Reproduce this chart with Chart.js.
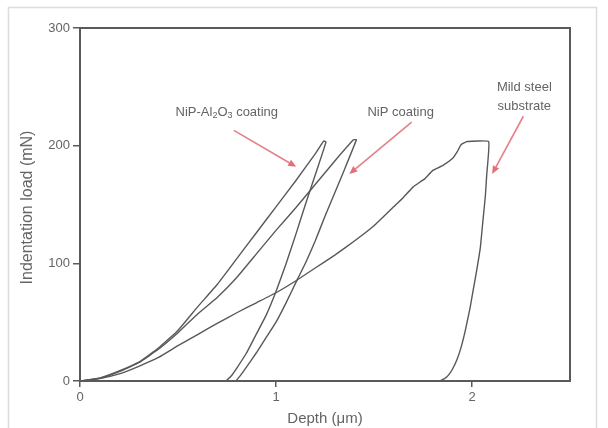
<!DOCTYPE html>
<html>
<head>
<meta charset="utf-8">
<script src="https://cdn.jsdelivr.net/npm/chart.js@4.4.1/dist/chart.umd.min.js"></script>
<style>
html,body{margin:0;padding:0;background:#fff;}
#wrap{width:608px;height:428px;position:relative;}
</style>
</head>
<body>
<div id="wrap"><canvas id="c" width="608" height="428"></canvas></div>
<script>
const xTicks = [0, 1, 2];
const yTicks = [0, 100, 200, 300];

const al2o3Depth = [0,0.1,0.2,0.3,0.4,0.5,0.6,0.7,0.8,0.9,1.0,1.1,1.2,1.235,1.245,1.255,1.2,1.15,1.1,1.05,1.0,0.95,0.9,0.85,0.8,0.77,0.745];
const al2o3Load  = [0,2.5,8.5,16,28,43,63,82,104,126,148,170,193,202,204,203,175,150,124,99,76,56,40,24,11,4,0];

const nipDepth = [0,0.1,0.2,0.3,0.4,0.5,0.6,0.7,0.8,0.9,1.0,1.1,1.2,1.3,1.395,1.41,1.35,1.3,1.25,1.2,1.15,1.111,1.05,1.0,0.95,0.9,0.85,0.82,0.795];
const nipLoad  = [0,2.3,8,15.5,27,41,57,71,88,108,128,147,167,187,205,205,180,160,140,119,100,87,66,50,37,24,12,5,0];

const steelDepth = [0,0.1,0.2,0.3,0.4,0.5,0.6,0.7,0.8,0.9,1.0,1.1,1.2,1.3,1.4,1.5,1.6,1.65,1.7,1.76,1.8,1.85,1.9,1.925,1.945,1.975,2.085,2.075,2.068,2.055,2.043,2.025,2.009,1.99,1.966,1.945,1.923,1.9,1.88,1.86,1.835];
const steelLoad  = [0,2,6,12.5,20,30,39.5,49,58,66.5,75,85,96,107,119,132,148,156,165,172,179,183,189,195,201,203.5,203.5,175,157,135,114,95,80,62,43,29,18,10,5,2,0];

const seriesNames = ['NiP-Al2O3 coating', 'NiP coating', 'Mild steel substrate'];

// annotation anchors in data units
const labelAl2o3 = {x: 0.749, y: 228.5};
const labelNip = {x: 1.636, y: 228.5};
const labelSteel = [{x: 2.267, y: 249.5, t: 'Mild steel'}, {x: 2.267, y: 233.3, t: 'substrate'}];
const arrows = [
  {x1: 0.785, y1: 213, x2: 1.103, y2: 182},
  {x1: 1.692, y1: 220, x2: 1.374, y2: 176},
  {x1: 2.262, y1: 225, x2: 2.103, y2: 176}
];

function pts(xs, ys){ return xs.map((v,i)=>({x:v, y:ys[i]})); }

const lineColor = '#585858';
const axisColor = '#5a5a5a';
const textColor = '#646464';
const fam = '"Liberation Sans", Arial, sans-serif';

const extras = {
  id: 'extras',
  beforeDraw(chart){
    const ctx = chart.ctx;
    ctx.save();
    ctx.fillStyle = '#fff';
    ctx.fillRect(0,0,chart.width,chart.height);
    ctx.strokeStyle = '#dcdcdc';
    ctx.lineWidth = 1.5;
    ctx.strokeRect(8.5, 7.5, 588, 440);
    ctx.restore();
  },
  afterDraw(chart){
    const ctx = chart.ctx;
    const xs = chart.scales.x, ys = chart.scales.y;
    const a = chart.chartArea;
    ctx.save();
    ctx.strokeStyle = axisColor;
    ctx.lineWidth = 2;
    ctx.strokeRect(a.left, a.top, a.right - a.left, a.bottom - a.top);
    // y axis title
    ctx.save();
    ctx.translate(28, (a.top + a.bottom) / 2 + 3);
    ctx.rotate(-Math.PI / 2);
    ctx.fillStyle = textColor;
    ctx.font = '16px ' + fam;
    ctx.textAlign = 'center';
    ctx.textBaseline = 'middle';
    ctx.fillText('Indentation load (mN)', 0, 0);
    ctx.restore();
    // arrows
    ctx.strokeStyle = 'rgba(224,105,115,0.85)';
    ctx.fillStyle = 'rgba(224,95,105,0.9)';
    ctx.lineWidth = 1.6;
    arrows.forEach(ar => {
      const x1 = xs.getPixelForValue(ar.x1), y1 = ys.getPixelForValue(ar.y1);
      const x2 = xs.getPixelForValue(ar.x2), y2 = ys.getPixelForValue(ar.y2);
      const ang = Math.atan2(y2 - y1, x2 - x1);
      const hl = 8, hw = 3.5;
      const bx = x2 - hl*Math.cos(ang), by = y2 - hl*Math.sin(ang);
      ctx.beginPath(); ctx.moveTo(x1,y1); ctx.lineTo(bx,by); ctx.stroke();
      ctx.beginPath();
      ctx.moveTo(x2,y2);
      ctx.lineTo(bx + hw*Math.sin(ang), by - hw*Math.cos(ang));
      ctx.lineTo(bx - hw*Math.sin(ang), by + hw*Math.cos(ang));
      ctx.closePath(); ctx.fill();
    });
    // labels
    ctx.fillStyle = textColor;
    ctx.textBaseline = 'middle';
    const big = '13px ' + fam;
    const small = '9px ' + fam;
    const parts = [['NiP-Al', big, 0], ['2', small, 3], ['O', big, 0], ['3', small, 3], [' coating', big, 0]];
    let total = 0;
    parts.forEach(p => { ctx.font = p[1]; total += ctx.measureText(p[0]).width; });
    let cx = xs.getPixelForValue(labelAl2o3.x) - total/2;
    const cy = ys.getPixelForValue(labelAl2o3.y);
    ctx.textAlign = 'left';
    parts.forEach(p => { ctx.font = p[1]; ctx.fillText(p[0], cx, cy + p[2]); cx += ctx.measureText(p[0]).width; });
    ctx.font = big;
    ctx.textAlign = 'center';
    ctx.fillText('NiP coating', xs.getPixelForValue(labelNip.x), ys.getPixelForValue(labelNip.y));
    labelSteel.forEach(l => ctx.fillText(l.t, xs.getPixelForValue(l.x), ys.getPixelForValue(l.y)));
    ctx.restore();
  }
};

const ds = (name, xs, ys) => ({
  label: name,
  data: pts(xs, ys),
  showLine: true,
  borderColor: lineColor,
  borderWidth: 1.4,
  pointRadius: 0,
  tension: 0.1,
  fill: false
});

new Chart(document.getElementById('c'), {
  type: 'scatter',
  data: {
    datasets: [
      ds(seriesNames[0], al2o3Depth, al2o3Load),
      ds(seriesNames[1], nipDepth, nipLoad),
      ds(seriesNames[2], steelDepth, steelLoad)
    ]
  },
  options: {
    responsive: false,
    animation: false,
    events: [],
    layout: {padding: {left: 0, right: 38, top: 28, bottom: 0}},
    plugins: {legend: {display: false}, tooltip: {enabled: false}},
    scales: {
      x: {
        type: 'linear', min: 0, max: 2.5,
        afterBuildTicks: s => { s.ticks = xTicks.map(v => ({value: v})); },
        afterFit: s => { s.height = 47; },
        grid: {drawOnChartArea: false, drawTicks: true, tickLength: 6, color: axisColor, lineWidth: 1.5},
        border: {display: true, color: axisColor, width: 2},
        ticks: {color: textColor, font: {size: 13, family: fam}, padding: 3, maxRotation: 0},
        title: {display: true, text: 'Depth (μm)', color: textColor, font: {size: 15, family: fam}, padding: {top: 0, bottom: 0}}
      },
      y: {
        type: 'linear', min: 0, max: 300,
        afterBuildTicks: s => { s.ticks = yTicks.map(v => ({value: v})); },
        afterFit: s => { s.width = 80; },
        grid: {drawOnChartArea: false, drawTicks: true, tickLength: 7, color: axisColor, lineWidth: 1.5},
        border: {display: true, color: axisColor, width: 2},
        ticks: {color: textColor, font: {size: 13, family: fam}, padding: 3},
        title: {display: false}
      }
    }
  },
  plugins: [extras]
});
</script>
</body>
</html>
